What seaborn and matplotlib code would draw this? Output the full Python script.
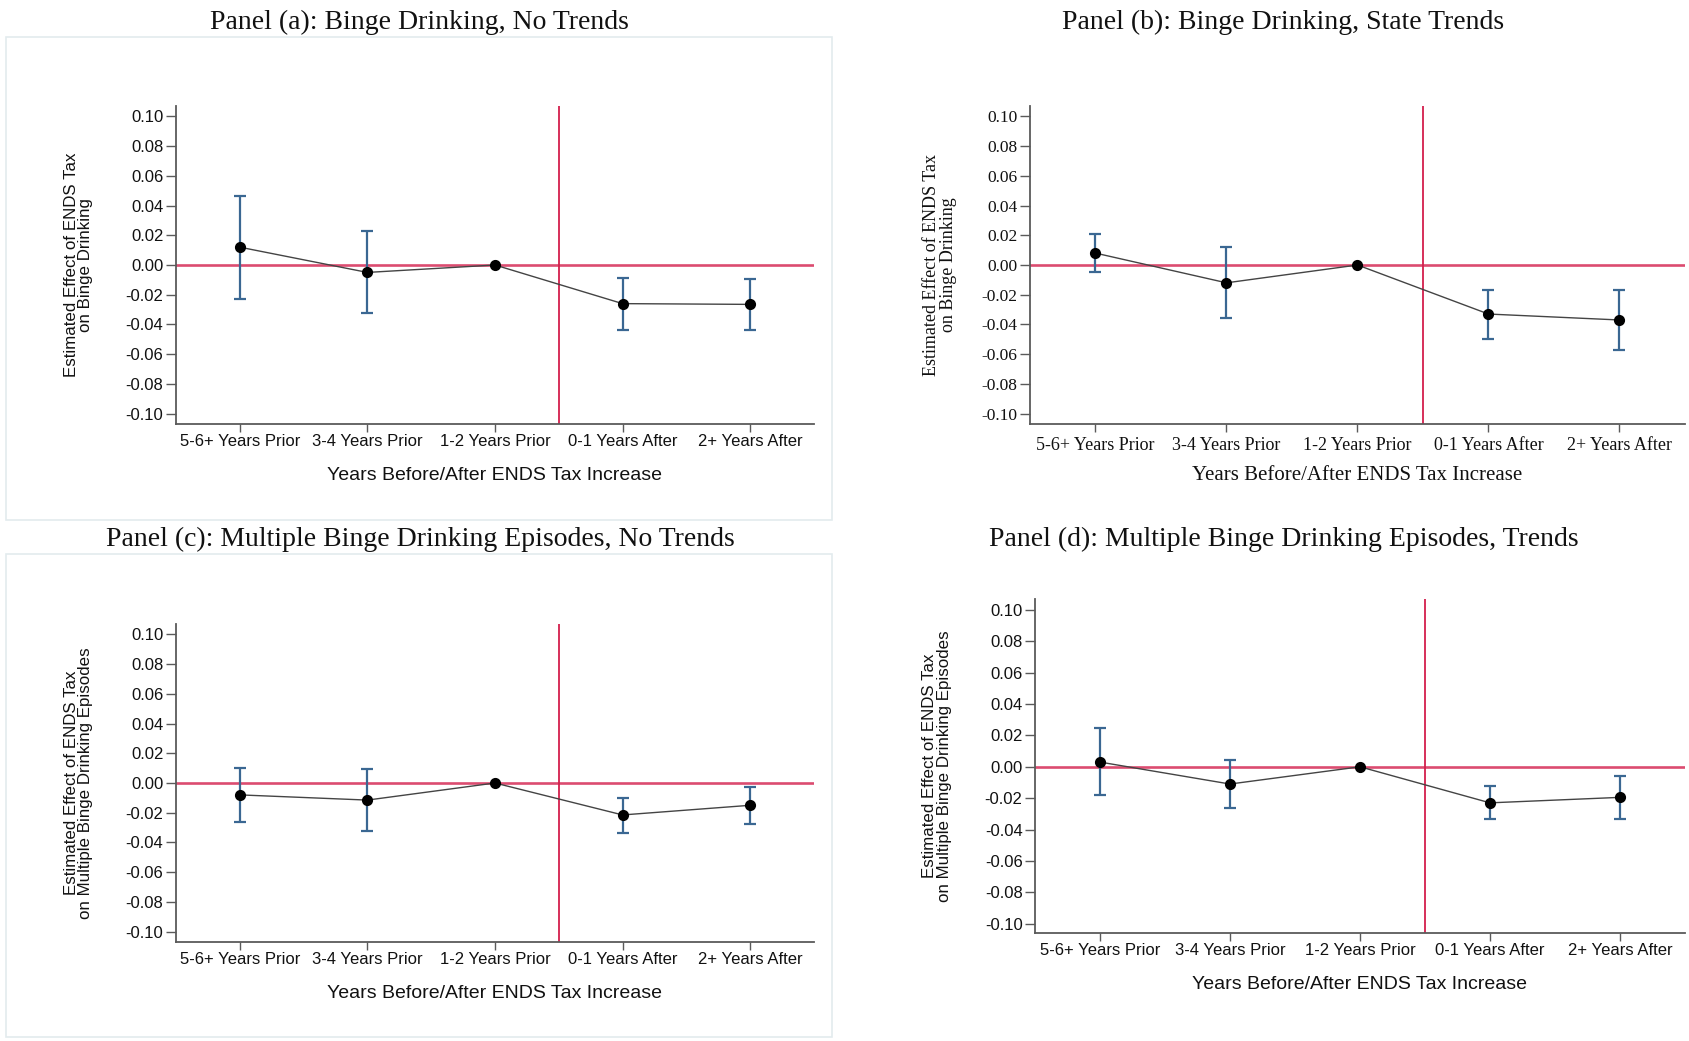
import numpy as np
import pandas as pd
import matplotlib
matplotlib.use("Agg")
import matplotlib.pyplot as plt
from matplotlib.patches import Rectangle
import seaborn as sns

# event-study estimates
periods = ["5-6+ Years Prior", "3-4 Years Prior", "1-2 Years Prior", "0-1 Years After", "2+ Years After"]

a_est = [0.012, -0.005, 0.0, -0.026, -0.0265]
a_lo = [-0.023, -0.032, 0.0, -0.044, -0.0435]
a_hi = [0.0465, 0.023, 0.0, -0.0085, -0.0095]

b_est = [0.008, -0.012, 0.0, -0.033, -0.037]
b_lo = [-0.0045, -0.036, 0.0, -0.050, -0.0575]
b_hi = [0.021, 0.012, 0.0, -0.0165, -0.0165]

c_est = [-0.008, -0.0115, 0.0, -0.0215, -0.015]
c_lo = [-0.026, -0.0325, 0.0, -0.0335, -0.0275]
c_hi = [0.010, 0.0095, 0.0, -0.010, -0.003]

d_est = [0.003, -0.011, 0.0, -0.023, -0.0195]
d_lo = [-0.018, -0.026, 0.0, -0.033, -0.033]
d_hi = [0.0245, 0.0045, 0.0, -0.0125, -0.006]

yticks = [0.10, 0.08, 0.06, 0.04, 0.02, 0.00, -0.02, -0.04, -0.06, -0.08, -0.10]
ytick_labels = ["%.2f" % t for t in yticks]

titles = ["Panel (a): Binge Drinking, No Trends",
          "Panel (b): Binge Drinking, State Trends",
          "Panel (c): Multiple Binge Drinking Episodes, No Trends",
          "Panel (d): Multiple Binge Drinking Episodes, Trends"]
ylabels = ["Estimated Effect of ENDS Tax\non Binge Drinking",
           "Estimated Effect of ENDS Tax\non Binge Drinking",
           "Estimated Effect of ENDS Tax\non Multiple Binge Drinking Episodes",
           "Estimated Effect of ENDS Tax\non Multiple Binge Drinking Episodes"]
xlabel = "Years Before/After ENDS Tax Increase"

sns.set_style("ticks")
plt.rcParams["font.family"] = ["Liberation Sans", "DejaVu Sans"]
plt.rcParams["text.color"] = "#111111"
plt.rcParams["axes.labelcolor"] = "#111111"

W, H = 1690, 1041
fig = plt.figure(figsize=(W / 100, H / 100), dpi=100)

def px_axes(left, top, right, bottom):
    return fig.add_axes([left / W, 1 - bottom / H, (right - left) / W, (bottom - top) / H])

RED = "#d31f4c"
BLUE = "#3a6792"
SPINE = "#5a5a5a"

def draw_panel(ax, est, lo, hi, ylab, serif, ylab_x, xlab_y, ylim):
    fam = ["Liberation Serif", "DejaVu Serif"] if serif else ["Liberation Sans", "DejaVu Sans"]
    df = pd.DataFrame({"period": periods, "est": est, "lo": lo, "hi": hi})
    ax.axhline(0, color=RED, lw=1.9, alpha=0.8, zorder=1)
    ax.axvline(2.5, color=RED, lw=1.3, zorder=1)
    # confidence intervals (skip the reference period)
    x = np.arange(len(periods))
    est_a, lo_a, hi_a = np.array(est), np.array(lo), np.array(hi)
    keep = hi_a > lo_a
    ax.errorbar(x[keep], est_a[keep], yerr=[est_a[keep] - lo_a[keep], hi_a[keep] - est_a[keep]],
                fmt="none", ecolor=BLUE, elinewidth=1.6, capsize=4, capthick=1.6, zorder=2)
    ax.plot(x, est_a, color="#444444", lw=1.0, zorder=3)
    sns.pointplot(data=df, x="period", y="est", order=periods, color="black",
                  linestyle="none", errorbar=None, markersize=6, ax=ax, zorder=4)
    ax.set_xlim(-0.5, 4.5)
    ax.set_ylim(*ylim)
    ax.set_yticks(yticks)
    ax.set_yticklabels(ytick_labels, family=fam, fontsize=12.5 if serif else 12)
    ax.set_xticks(x)
    ax.set_xticklabels(periods, family=fam, fontsize=13 if serif else 12)
    ax.tick_params(axis="y", length=7, width=1.0, color=SPINE, pad=2, labelcolor="#111111")
    ax.tick_params(axis="x", length=6, width=1.0, color=SPINE,
                   pad=3 if serif else 1.5, labelcolor="#111111")
    for s in ["top", "right"]:
        ax.spines[s].set_visible(False)
    for s in ["left", "bottom"]:
        ax.spines[s].set_color(SPINE)
        ax.spines[s].set_linewidth(1.3)
    ax.set_ylabel(ylab, family=fam, fontsize=13 if serif else 12.2, linespacing=0.95)
    ax.yaxis.set_label_coords(ylab_x, 0.5)
    ax.set_xlabel(xlabel, family=fam, fontsize=15 if serif else 14)
    ax.xaxis.set_label_coords(0.5, xlab_y)
    ax.grid(False)

# light frames around the left-hand graphs
for top, bottom in [(37, 520), (554, 1037)]:
    fig.patches.append(Rectangle((6 / W, 1 - bottom / H), 826 / W, (bottom - top) / H,
                                 transform=fig.transFigure, fill=False,
                                 edgecolor="#e3ebee", lw=1.2))

ax_a = px_axes(176, 106, 814, 424)
ax_b = px_axes(1030, 106, 1685, 424)
ax_c = px_axes(176, 624, 814, 942)
ax_d = px_axes(1035, 599, 1685, 933)

draw_panel(ax_a, a_est, a_lo, a_hi, ylabels[0], False, -0.130, -0.135, (-0.107, 0.107))
draw_panel(ax_b, b_est, b_lo, b_hi, ylabels[1], True, -0.112, -0.131, (-0.107, 0.107))
draw_panel(ax_c, c_est, c_lo, c_hi, ylabels[2], False, -0.130, -0.135, (-0.107, 0.107))
draw_panel(ax_d, d_est, d_lo, d_hi, ylabels[3], False, -0.128, -0.129, (-0.106, 0.107))

title_pos = [(419, 22), (1283, 22), (420, 539), (1284, 539)]
for t, (tx, ty) in zip(titles, title_pos):
    fig.text(tx / W, 1 - ty / H, t, ha="center", va="center",
             family=["Liberation Serif", "DejaVu Serif"], fontsize=20)

fig.savefig("out.png", dpi=100, facecolor="white")
